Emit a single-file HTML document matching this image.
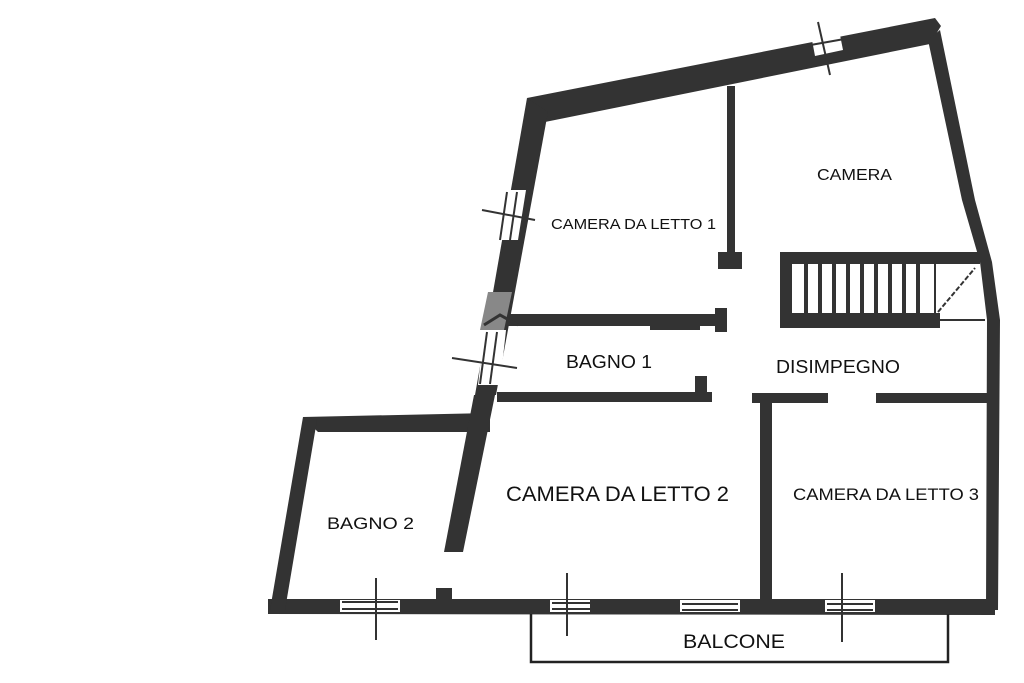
<!DOCTYPE html>
<html><head><style>
html,body{margin:0;padding:0;background:#fff;}
svg{display:block}
text{font-family:"Liberation Sans",sans-serif;fill:#111}
</style></head><body>
<svg width="1024" height="683" viewBox="0 0 1024 683">
<g fill="#333">
<polygon points="527,98 935,18 941,26 930,44 545,122"/>
<polygon points="527,98 548,112 496,395 475,395"/>
<polygon points="928,40 940,30 975,200 992,262 1000,320 998,610 986,610 987,320 980,262 962,200"/>
<polygon points="268,599 995,599 995,615 268,614"/>
<polygon points="303,417 490,413 490,432 318,432"/>
<polygon points="303,417 317,420 285,610 270,610"/>
<polygon points="474,395 495,395 463,552 444,552"/>
<rect x="436" y="588" width="16" height="12"/>
<rect x="727" y="86" width="8" height="180"/>
<rect x="718" y="252" width="24" height="17"/>
<rect x="497" y="314" width="228" height="12"/>
<rect x="650" y="320" width="50" height="10"/>
<rect x="715" y="308" width="12" height="24"/>
<rect x="497" y="392" width="215" height="10"/>
<rect x="695" y="376" width="12" height="20"/>
<rect x="780" y="252" width="200" height="12"/>
<rect x="780" y="313" width="160" height="15"/>
<rect x="780" y="252" width="12" height="76"/>
<rect x="752" y="393" width="76" height="10"/>
<rect x="876" y="393" width="120" height="10"/>
<rect x="760" y="395" width="12" height="205"/>
</g>
<g stroke="#333" stroke-width="4">
<line x1="806" y1="262" x2="806" y2="314"/><line x1="820" y1="262" x2="820" y2="314"/>
<line x1="834" y1="262" x2="834" y2="314"/><line x1="848" y1="262" x2="848" y2="314"/>
<line x1="862" y1="262" x2="862" y2="314"/><line x1="876" y1="262" x2="876" y2="314"/>
<line x1="890" y1="262" x2="890" y2="314"/><line x1="904" y1="262" x2="904" y2="314"/>
<line x1="918" y1="262" x2="918" y2="314"/>
<line x1="935" y1="262" x2="935" y2="314" stroke-width="2"/>
<line x1="938" y1="312" x2="975" y2="268" stroke-width="2" stroke-dasharray="5,2"/>
<line x1="940" y1="320" x2="985" y2="320" stroke-width="2"/>
</g>
<g fill="#fff">
<rect x="340" y="600" width="60" height="12"/>
<rect x="550" y="600" width="40" height="12"/>
<rect x="680" y="600" width="60" height="12"/>
<rect x="825" y="600" width="50" height="12"/>
<polygon points="812,40 840,35 843,50 815,56"/>
<polygon points="506,190 526,190 518,240 498,240"/>
<polygon points="484,330 506,330 500,385 478,385"/>
</g>
<g fill="#888"><polygon points="488,292 512,292 504,330 480,330"/></g>
<g stroke="#333" stroke-width="2" fill="none">
<line x1="342" y1="602" x2="398" y2="602"/><line x1="342" y1="609" x2="398" y2="609"/>
<line x1="376" y1="578" x2="376" y2="640"/>
<line x1="552" y1="603" x2="590" y2="603"/><line x1="552" y1="609" x2="590" y2="609"/>
<line x1="567" y1="573" x2="567" y2="636"/>
<line x1="682" y1="604" x2="738" y2="604"/><line x1="682" y1="610" x2="738" y2="610"/>
<line x1="827" y1="604" x2="873" y2="604"/><line x1="827" y1="610" x2="873" y2="610"/>
<line x1="842" y1="573" x2="842" y2="642"/>
<line x1="818" y1="22" x2="830" y2="75"/><line x1="805" y1="46" x2="850" y2="38"/>
<line x1="507" y1="192" x2="500" y2="240"/><line x1="517" y1="192" x2="510" y2="240"/>
<line x1="482" y1="210" x2="535" y2="220"/>
<line x1="487" y1="332" x2="480" y2="384"/><line x1="497" y1="332" x2="490" y2="384"/>
<line x1="452" y1="358" x2="517" y2="368"/>
<polyline points="484,325 500,315 518,325" stroke-width="3"/>
</g>
<polyline points="531,614 531,662 948,662 948,614" fill="none" stroke="#222" stroke-width="2.5"/>
<g lengthAdjust="spacingAndGlyphs">
<text x="817" y="180" font-size="16" textLength="75" lengthAdjust="spacingAndGlyphs">CAMERA</text>
<text x="551" y="229" font-size="15" textLength="165" lengthAdjust="spacingAndGlyphs">CAMERA DA LETTO 1</text>
<text x="566" y="368" font-size="18" textLength="86" lengthAdjust="spacingAndGlyphs">BAGNO 1</text>
<text x="776" y="373" font-size="18" textLength="124" lengthAdjust="spacingAndGlyphs">DISIMPEGNO</text>
<text x="506" y="501" font-size="21" textLength="223" lengthAdjust="spacingAndGlyphs">CAMERA DA LETTO 2</text>
<text x="793" y="500" font-size="17" textLength="186" lengthAdjust="spacingAndGlyphs">CAMERA DA LETTO 3</text>
<text x="327" y="529" font-size="17" textLength="87" lengthAdjust="spacingAndGlyphs">BAGNO 2</text>
<text x="683" y="648" font-size="19" textLength="102" lengthAdjust="spacingAndGlyphs">BALCONE</text>
</g>
</svg>
</body></html>
